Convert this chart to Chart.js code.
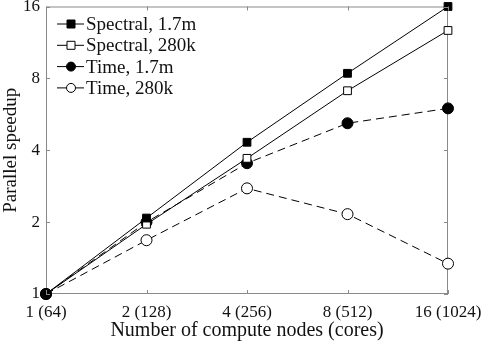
<!DOCTYPE html>
<html>
<head>
<meta charset="utf-8">
<script src="https://cdn.jsdelivr.net/npm/chart.js@4.4.0/dist/chart.umd.min.js"></script>
<style>
  html, body { margin: 0; padding: 0; background: #fff; }
  #wrap { width: 498px; height: 341px; }
</style>
</head>
<body>
<div id="wrap"><canvas id="speedup" width="498" height="341"></canvas></div>
<script>
const nodes = ['1 (64)', '2 (128)', '4 (256)', '8 (512)', '16 (1024)'];
const yTicks = [1, 2, 4, 8, 16];
const spectral17m = [1, 2.08, 4.32, 8.4, 16];
const spectral280k = [1, 1.96, 3.7, 7.1, 12.7];
const time17m = [1, 2.0, 3.53, 5.19, 5.99];
const time280k = [1, 1.68, 2.77, 2.16, 1.34];

const FONT = "'Liberation Serif', 'DejaVu Serif', serif";
const AXIS_GRAY = '#8a8a8a';

// inward ticks + legend inside the plot
const frame = {
    id: 'frame',
    afterDraw(chart) {
        const ctx = chart.ctx, a = chart.chartArea;
        const xs = chart.scales.x, ys = chart.scales.y;
        ctx.save();
        ctx.strokeStyle = AXIS_GRAY;
        ctx.lineWidth = 1;
        ctx.beginPath();
        nodes.forEach((n, i) => {
            const x = Math.round(xs.getPixelForValue(i)) + 0.5;
            ctx.moveTo(x, a.bottom); ctx.lineTo(x, a.bottom - 4);
            ctx.moveTo(x, a.top); ctx.lineTo(x, a.top + 4);
        });
        yTicks.forEach(v => {
            const y = Math.round(ys.getPixelForValue(v)) + 0.5;
            ctx.moveTo(a.left, y); ctx.lineTo(a.left + 4, y);
            ctx.moveTo(a.right, y); ctx.lineTo(a.right - 4, y);
        });
        ctx.stroke();

        // legend
        ctx.font = '19px ' + FONT;
        ctx.textBaseline = 'middle';
        chart.data.datasets.forEach((ds, i) => {
            const y = 24 + i * 21.3;
            const x0 = a.left + 11;
            ctx.strokeStyle = '#000';
            ctx.setLineDash([]);
            ctx.beginPath();
            ctx.moveTo(x0, y); ctx.lineTo(x0 + 27, y);
            ctx.stroke();
            const cx = x0 + 14;
            ctx.fillStyle = ds.pointBackgroundColor;
            ctx.beginPath();
            if (ds.pointStyle === 'rect') {
                ctx.rect(cx - 4, y - 4, 8, 8);
            } else {
                ctx.arc(cx, y, 4.5, 0, Math.PI * 2);
            }
            ctx.fill();
            ctx.stroke();
            ctx.fillStyle = '#111';
            ctx.fillText(ds.label, x0 + 29, y + 1);
        });
        ctx.restore();
    }
};

// frame box drawn under the data
const box = {
    id: 'box',
    beforeDatasetsDraw(chart) {
        const ctx = chart.ctx, a = chart.chartArea;
        ctx.save();
        ctx.strokeStyle = AXIS_GRAY;
        ctx.lineWidth = 1;
        ctx.strokeRect(a.left + 0.5, a.top + 0.5, a.right - a.left - 1, a.bottom - a.top - 1);
        ctx.restore();
    }
};

function series(label, data, style, filled, dashed) {
    return {
        label: label,
        data: data,
        borderColor: '#000',
        borderWidth: 1,
        borderDash: dashed ? [8, 5] : [],
        pointStyle: style,
        pointRadius: 5.5,
        pointBackgroundColor: filled ? '#000' : '#fff',
        pointBorderColor: '#000',
        pointBorderWidth: 1,
        tension: 0,
        fill: false,
        clip: false
    };
}

new Chart(document.getElementById('speedup'), {
    type: 'line',
    data: {
        labels: nodes,
        datasets: [
            series('Spectral, 1.7m', spectral17m, 'rect', true, false),
            series('Spectral, 280k', spectral280k, 'rect', false, false),
            series('Time, 1.7m', time17m, 'circle', true, true),
            series('Time, 280k', time280k, 'circle', false, true)
        ]
    },
    options: {
        responsive: false,
        animation: false,
        layout: { padding: { top: 6, right: 50, left: 0, bottom: 0 } },
        plugins: { legend: { display: false }, tooltip: { enabled: false } },
        scales: {
            x: {
                type: 'category',
                offset: false,
                grid: { display: false, drawTicks: false },
                border: { display: false },
                ticks: { color: '#111', font: { family: FONT, size: 17 }, padding: 8, maxRotation: 0 },
                title: { display: true, text: 'Number of compute nodes (cores)', color: '#111',
                         font: { family: FONT, size: 20 }, padding: { top: 0, bottom: -2 } },
                afterFit(s) {
                    s.height = 47;
                    s.paddingLeft = 0;
                    s.paddingRight = 0;
                }
            },
            y: {
                type: 'logarithmic',
                min: 1,
                max: 16,
                grid: { display: false, drawTicks: false },
                border: { display: false },
                afterBuildTicks(s) { s.ticks = yTicks.map(v => ({ value: v })); },
                ticks: { color: '#111', font: { family: FONT, size: 17 }, padding: 6,
                         callback: v => String(v) },
                title: { display: true, text: 'Parallel speedup', color: '#111',
                         font: { family: FONT, size: 19 }, padding: { top: 0, bottom: 0 } },
                afterFit(s) {
                    s.width = 46;
                    s.paddingTop = 0;
                    s.paddingBottom = 0;
                }
            }
        }
    },
    plugins: [box, frame]
});
</script>
</body>
</html>
